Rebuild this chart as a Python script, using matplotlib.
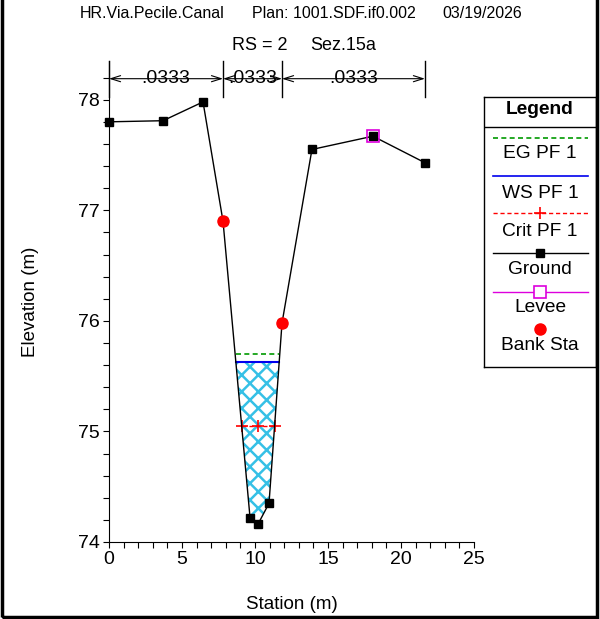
import numpy as np
import matplotlib
matplotlib.use("Agg")
import matplotlib.pyplot as plt
from matplotlib.ticker import MultipleLocator
from matplotlib.patches import Rectangle

plt.rcParams['font.family'] = ['Liberation Sans', 'DejaVu Sans']
plt.rcParams['hatch.linewidth'] = 1.8

# cross section data
station = [0.0, 3.7, 6.44, 7.81, 9.66, 10.2, 10.96, 11.85, 13.9, 18.08, 21.64]
elevation = [77.80, 77.81, 77.98, 76.90, 74.22, 74.16, 74.35, 75.98, 77.55, 77.67, 77.43]
bank_sta = [7.81, 11.85]
levee_sta = [18.08]
n_breaks = [0.0, 7.81, 11.85, 21.64]
n_values = [".0333", ".0333", ".0333"]
ws_elev = 75.63
eg_elev = 75.70
crit_elev = 75.05

water_color = '#35C0E6'

sta = np.array(station)
elev = np.array(elevation)


def crossings(level):
    # left and right points where the ground meets a water level
    i_min = int(np.argmin(elev))
    left = np.interp(level, elev[:i_min + 1][::-1], sta[:i_min + 1][::-1])
    right = np.interp(level, elev[i_min:], sta[i_min:])
    return left, right


fig = plt.figure(figsize=(6.0, 6.19), dpi=100)
ax = fig.add_axes([109 / 600, 1 - 542 / 619, 365 / 600, 481 / 619])

# water
ax.fill_between(sta, elev, ws_elev, where=elev < ws_elev, interpolate=True,
                facecolor='none', edgecolor=water_color, linewidth=0,
                hatch='xx', zorder=1)

wl, wr = crossings(ws_elev)
ax.plot([wl, wr], [eg_elev, eg_elev], color='#009900', ls=(0, (3, 2)), lw=1.2, zorder=3)
ax.plot([wl, wr], [ws_elev, ws_elev], color='#0000EE', lw=1.5, zorder=3)

cl, cr = crossings(crit_elev)
ax.plot([cl, (cl + cr) / 2, cr], [crit_elev] * 3, color='red', ls=(0, (3, 2)),
        lw=1.0, marker='+', ms=9, mew=1.2, zorder=3)

# ground
ax.plot(sta, elev, color='black', lw=1.0, marker='s', ms=5.5, zorder=4, clip_on=False)
lev_elev = np.interp(levee_sta, sta, elev)
ax.plot(levee_sta, lev_elev, ls='none', marker='s', ms=9, mfc='none',
        mec='#DD00DD', mew=1.2, zorder=5)
bank_elev = np.interp(bank_sta, sta, elev)
ax.plot(bank_sta, bank_elev, ls='none', marker='o', ms=8, color='red', zorder=5)

# manning's n
y_top, y_bot, y_arr = 78.35, 78.02, 78.19
for b in n_breaks:
    ax.plot([b, b], [y_bot, y_top], color='black', lw=1.0, clip_on=False, zorder=6)
for i, lab in enumerate(n_values):
    x0, x1 = n_breaks[i], n_breaks[i + 1]
    ax.annotate('', xy=(x0, y_arr), xytext=(x1, y_arr),
                arrowprops=dict(arrowstyle='<->,head_length=0.7,head_width=0.22',
                                color='black', lw=0.8, shrinkA=0, shrinkB=0),
                annotation_clip=False, zorder=6)
    ax.text((x0 + x1) / 2, y_arr, lab, ha='center', va='center', fontsize=14,
            bbox=dict(facecolor='white', edgecolor='none', pad=0.5), zorder=5,
            clip_on=False)

ax.set_xlim(0, 25)
ax.set_ylim(74, 78.35)
ax.xaxis.set_major_locator(MultipleLocator(5))
ax.xaxis.set_minor_locator(MultipleLocator(1))
ax.yaxis.set_major_locator(MultipleLocator(1))
ax.yaxis.set_minor_locator(MultipleLocator(0.2))
ax.tick_params(which='major', length=4.5, width=0.8, labelsize=14, pad=2)
ax.tick_params(which='minor', length=4, width=0.8)
for s in ['top', 'right']:
    ax.spines[s].set_visible(False)
ax.set_xlabel('Station (m)', fontsize=13.5, labelpad=20)
ax.set_ylabel('Elevation (m)', fontsize=13.5, labelpad=28)

# header
fig.text(80 / 600, 1 - 13 / 619, 'HR.Via.Pecile.Canal', fontsize=11.5, va='center')
fig.text(252 / 600, 1 - 13 / 619, 'Plan: 1001.SDF.if0.002', fontsize=11.5, va='center')
fig.text(442 / 600, 1 - 13 / 619, '03/19/2026', fontsize=11.5, va='center')
fig.text(232 / 600, 1 - 45 / 619, 'RS = 2', fontsize=13, va='center')
fig.text(310 / 600, 1 - 45 / 619, 'Sez.15a', fontsize=13, va='center')

# legend box
lg = fig.add_axes([484 / 600, 1 - 367 / 619, 112 / 600, 270 / 619])
lg.set_xlim(0, 112)
lg.set_ylim(270, 0)
lg.set_xticks([])
lg.set_yticks([])
for s in lg.spines.values():
    s.set_linewidth(1.0)
fs = 13.8
lg.text(56, 13, 'Legend', fontsize=fs, fontweight='bold', ha='center', va='center')
lg.plot([0, 112], [30, 30], color='black', lw=1.0)
xs = [9, 104]
lg.plot(xs, [41, 41], color='#009900', ls=(0, (3, 2)), lw=1.2)
lg.text(56, 57, 'EG PF 1', fontsize=fs, ha='center', va='center')
lg.plot(xs, [79, 79], color='#0000EE', lw=1.2)
lg.text(56, 96, 'WS PF 1', fontsize=fs, ha='center', va='center')
lg.plot(xs, [116, 116], color='red', ls=(0, (3, 2)), lw=1.0)
lg.plot([56], [116], marker='+', ms=8, mew=1.2, color='red')
lg.text(56, 135, 'Crit PF 1', fontsize=fs, ha='center', va='center')
lg.plot(xs, [156, 156], color='black', lw=1.0)
lg.plot([56], [156], marker='s', ms=5.5, color='black')
lg.text(56, 172, 'Ground', fontsize=fs, ha='center', va='center')
lg.plot(xs, [195, 195], color='#DD00DD', lw=1.0)
lg.plot([56], [195], marker='s', ms=9, mfc='white', mec='#DD00DD', mew=1.2)
lg.text(56, 211, 'Levee', fontsize=fs, ha='center', va='center')
lg.plot([56], [232], marker='o', ms=8, color='red')
lg.text(56, 249, 'Bank Sta', fontsize=fs, ha='center', va='center')

# outer frame
fig.patches.append(Rectangle((2 / 600, 2 / 619), 595 / 600, 630 / 619,
                             transform=fig.transFigure, fill=False,
                             edgecolor='black', lw=2.5))

fig.savefig('out.png', dpi=100)
